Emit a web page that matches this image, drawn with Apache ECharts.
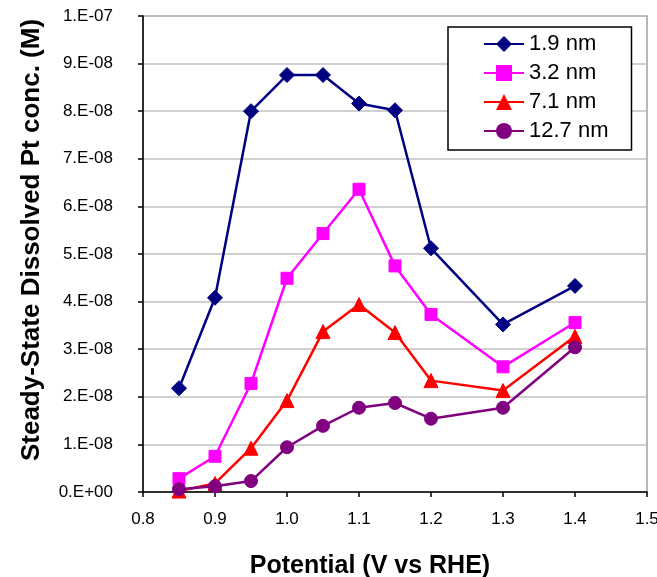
<!DOCTYPE html>
<html><head><meta charset="utf-8">
<script src="https://cdn.jsdelivr.net/npm/echarts@6/dist/echarts.min.js"></script>
<style>html,body{margin:0;padding:0;background:#fff}#c{width:657px;height:577px}</style>
</head><body><div id="c"></div>
<script>
const potentials = [0.85, 0.9, 0.95, 1.0, 1.05, 1.1, 1.15, 1.2, 1.3, 1.4];
const s19 = [2.18e-8, 4.08e-8, 8.0e-8, 8.76e-8, 8.76e-8, 8.16e-8, 8.02e-8, 5.12e-8, 3.52e-8, 4.33e-8];
const s32 = [0.28e-8, 0.75e-8, 2.28e-8, 4.49e-8, 5.43e-8, 6.36e-8, 4.75e-8, 3.73e-8, 2.63e-8, 3.56e-8];
const s71 = [0.02e-8, 0.18e-8, 0.92e-8, 1.92e-8, 3.37e-8, 3.94e-8, 3.35e-8, 2.34e-8, 2.13e-8, 3.27e-8];
const s127 = [0.06e-8, 0.12e-8, 0.23e-8, 0.94e-8, 1.39e-8, 1.77e-8, 1.87e-8, 1.54e-8, 1.77e-8, 3.04e-8];
const seriesNames = ['1.9 nm', '3.2 nm', '7.1 nm', '12.7 nm'];
const xTitle = 'Potential (V vs RHE)';
const yTitle = 'Steady-State Dissolved Pt conc. (M)';

const font = 'Liberation Sans, Arial, sans-serif';
function sciFmt(v) {
  if (Math.abs(v) < 1e-20) return '0.E+00';
  let e = Math.floor(Math.log10(Math.abs(v)) + 1e-9);
  let m = Math.round(v / Math.pow(10, e));
  if (m >= 10) { m = 1; e += 1; }
  const sign = e < 0 ? '-' : '+';
  const ae = Math.abs(e);
  return m + '.E' + sign + (ae < 10 ? '0' : '') + ae;
}
const mk = (arr) => potentials.map((x, i) => [x, arr[i]]);
const defs = [
  {name: seriesNames[0], data: s19, color: '#000080', symbol: 'diamond', size: 15},
  {name: seriesNames[1], data: s32, color: '#FF00FF', symbol: 'rect', size: 12},
  {name: seriesNames[2], data: s71, color: '#FF0000', symbol: 'triangle', size: 14},
  {name: seriesNames[3], data: s127, color: '#800080', symbol: 'circle', size: 13}
];
const chart = echarts.init(document.getElementById('c'));
chart.setOption({
  animation: false,
  backgroundColor: '#fff',
  grid: {left: 143, right: 10, top: 16, bottom: 85, show: true, borderColor: '#a0a0a0', borderWidth: 1.5, outerBoundsMode: 'none', containLabel: false},
  legend: {
    left: 448, top: 27, orient: 'vertical', itemGap: 7,
    backgroundColor: '#fff', borderColor: '#000', borderWidth: 1.5,
    padding: [6, 23, 8, 35], itemWidth: 40, itemHeight: 20,
    textStyle: {fontFamily: font, fontSize: 22, lineHeight: 22, color: '#000'},
    data: seriesNames
  },
  xAxis: {
    type: 'value', min: 0.8, max: 1.5, interval: 0.1,
    name: xTitle, nameLocation: 'middle', nameGap: 62,
    nameTextStyle: {fontFamily: font, fontSize: 25, fontWeight: 'bold', color: '#000', padding: [0, 50, 0, 0]},
    axisLine: {lineStyle: {color: '#000', width: 1.5}},
    axisTick: {show: true, inside: false, length: 5, lineStyle: {color: '#000', width: 1.5}},
    axisLabel: {fontFamily: font, fontSize: 17, color: '#000', margin: 19, formatter: v => v.toFixed(1)},
    splitLine: {show: false}
  },
  yAxis: {
    type: 'value', min: 0, max: 1e-7, interval: 1e-8,
    name: yTitle, nameLocation: 'middle', nameGap: 98,
    nameTextStyle: {fontFamily: font, fontSize: 26, fontWeight: 'bold', color: '#000', padding: [0, 0, 0, 28]},
    axisLine: {show: true, lineStyle: {color: '#000', width: 1.5}},
    axisTick: {show: true, inside: false, length: 5, lineStyle: {color: '#000', width: 1.5}},
    axisLabel: {fontFamily: font, fontSize: 17, color: '#000', margin: 30, formatter: sciFmt},
    splitLine: {show: true, lineStyle: {color: '#c0c0c0', width: 1.5}}
  },
  series: defs.map(d => ({
    name: d.name, type: 'line', data: mk(d.data),
    symbol: d.symbol, symbolSize: d.size, showAllSymbol: true,
    lineStyle: {color: d.color, width: 2.5},
    itemStyle: {color: d.color, borderColor: d.color},
    emphasis: {disabled: true}
  }))
});
</script></body></html>
